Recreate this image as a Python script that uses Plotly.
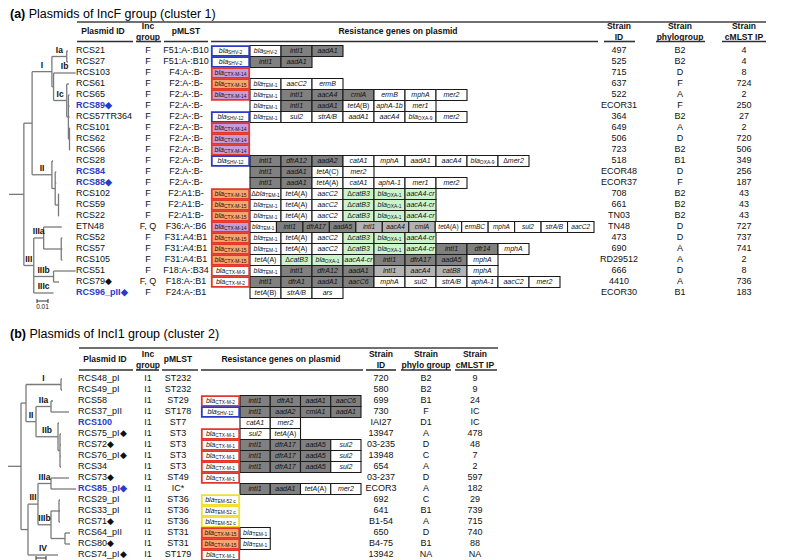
import plotly.graph_objects as go

# ======================= DATA : panel (a) IncF =======================
A_IDS = ["RCS21", "RCS27", "RCS103", "RCS61", "RCS65", "RCS89◆", "RCS57TR364", "RCS101",
         "RCS62", "RCS66", "RCS28", "RCS84", "RCS88◆", "RCS102", "RCS59", "RCS22", "ETN48",
         "RCS52", "RCS57", "RCS105", "RCS51", "RCS79◆", "RCS96_pII◆"]
A_REFSTRAIN = ["RCS89◆", "RCS84", "RCS88◆", "RCS96_pII◆"]
A_INC = ["F", "F", "F", "F", "F", "F", "F", "F", "F", "F", "F", "F", "F", "F", "F", "F",
         "F, Q", "F", "F", "F", "F", "F, Q", "F"]
A_PMLST = ["F51:A-:B10", "F51:A-:B10", "F4:A-:B-", "F2:A-:B-", "F2:A-:B-", "F2:A-:B-",
           "F2:A-:B-", "F2:A-:B-", "F2:A-:B-", "F2:A-:B-", "F2:A-:B-", "F2:A-:B-", "F2:A-:B-",
           "F2:A1:B-", "F2:A1:B-", "F2:A1:B-", "F36:A-:B6", "F31:A4:B1", "F31:A4:B1",
           "F31:A4:B1", "F18:A-:B34", "F18:A-:B1", "F24:A-:B1"]
# first entry = ESBL slot ("" = none); "In:" class-1 integron cassette, "In2:" second
# integron, "OX:" blaOXA-1 module
A_GENES = [
    ["blaSHV-2", "blaSHV-2", "In:intI1", "In:aadA1"],
    ["blaSHV-2", "In:intI1", "In:aadA1"],
    ["blaCTX-M-14"],
    ["blaCTX-M-15", "blaTEM-1", "aacC2", "ermB"],
    ["blaCTX-M-14", "blaTEM-1", "In:intI1", "In:aacA4", "In:cmlA", "ermB", "mphA", "mer2"],
    ["", "blaTEM-1", "In:intI1", "In:aadA1", "tetA(B)", "aphA-1b", "mer1"],
    ["blaSHV-12", "blaTEM-1", "sul2", "strA/B", "aadA1", "aacA4", "blaOXA-9", "mer2"],
    ["blaCTX-M-14"],
    ["blaCTX-M-14"],
    ["blaCTX-M-14"],
    ["blaSHV-12", "In:intI1", "In:dfrA12", "In:aadA2", "catA1", "mphA", "aadA1", "aacA4",
     "blaOXA-9", "Δmer2"],
    ["", "In:intI1", "In:aadA1", "tetA(C)", "mer2"],
    ["", "In:intI1", "In:aadA1", "tetA(A)", "catA1", "aphA-1", "mer1", "mer2"],
    ["blaCTX-M-15", "ΔblaTEM-1", "tetA(A)", "aacC2", "OX:ΔcatB3", "OX:blaOXA-1", "OX:aacA4-cr"],
    ["blaCTX-M-15", "blaTEM-1", "tetA(A)", "aacC2", "OX:ΔcatB3", "OX:blaOXA-1", "OX:aacA4-cr"],
    ["blaCTX-M-15", "blaTEM-1", "tetA(A)", "aacC2", "OX:ΔcatB3", "OX:blaOXA-1", "OX:aacA4-cr"],
    ["blaCTX-M-14", "blaTEM-1", "In:intI1", "In:dfrA17", "In:aadA5", "In2:intI1", "In2:aacA4",
     "In2:cmlA", "tetA(A)", "ermBC", "mphA", "sul2", "strA/B", "aacC2"],
    ["blaCTX-M-15", "blaTEM-1", "tetA(A)", "aacC2", "OX:ΔcatB3", "OX:blaOXA-1", "OX:aacA4-cr"],
    ["blaCTX-M-15", "blaTEM-1", "tetA(A)", "aacC2", "OX:ΔcatB3", "OX:blaOXA-1", "OX:aacA4-cr",
     "In:intI1", "In:dfr14", "mphA"],
    ["blaCTX-M-15", "tetA(A)", "OX:ΔcatB3", "OX:blaOXA-1", "OX:aacA4-cr", "In:intI1",
     "In:dfrA17", "In:aadA5", "mphA"],
    ["blaCTX-M-9", "blaTEM-1", "In:intI1", "In:dfrA12", "In:aadA1", "In2:intI1", "In2:aacA4",
     "In2:catB8", "mphA"],
    ["blaCTX-M-2", "In:intI1", "In:dfrA1", "In:aadA1", "In:aacC6", "mphA", "sul2", "strA/B",
     "aphA-1", "aacC2", "mer2"],
    ["", "tetA(B)", "strA/B", "ars"],
]
A_STRAIN = ["497", "525", "715", "637", "522", "ECOR31", "364", "649", "506", "723", "518",
            "ECOR48", "ECOR37", "708", "661", "TN03", "TN48", "473", "690", "RD29512", "666",
            "4410", "ECOR30"]
A_PHYLO = ["B2", "B2", "D", "F", "A", "F", "B2", "A", "D", "B2", "B1", "D", "F", "B2", "B2",
           "B2", "D", "D", "A", "A", "D", "A", "B1"]
A_CMLST = ["4", "4", "8", "724", "2", "250", "27", "2", "720", "506", "349", "256", "187",
           "43", "43", "43", "727", "737", "741", "2", "8", "736", "183"]
# tree: (clade label, branch length, children | leaf name)
A_TREE = ("", 0.0135, [
    ("", 0.0075, [
        ("I", 0.018, [
            ("Ia", 0.0135, [("", 0.001, "RCS21"), ("", 0.001, "RCS27")]),
            ("", 0.0015, [
                ("Ib", 0.020, "RCS103"),
                ("Ic", 0.012, [
                    ("", 0.002, "RCS61"),
                    ("", 0.0015, [
                        ("", 0.001, "RCS65"), ("", 0.001, "RCS89"), ("", 0.001, "RCS57TR364"),
                        ("", 0.001, [("", 0.0005, "RCS101"), ("", 0.0005, "RCS62"),
                                     ("", 0.0005, "RCS66")])])])])]),
        ("II", 0.018, [
            ("", 0.001, "RCS28"),
            ("", 0.003, [
                ("", 0.001, "RCS84"), ("", 0.001, "RCS88"),
                ("", 0.003, [("", 0.0005, "RCS102"), ("", 0.0005, "RCS59"),
                             ("", 0.0005, "RCS22")])])])]),
    ("III", 0.009, [
        ("IIIa", 0.009, [
            ("", 0.0165, "ETN48"),
            ("", 0.016, [("", 0.001, "RCS52"), ("", 0.001, "RCS57"), ("", 0.001, "RCS105")])]),
        ("IIIb", 0.018, [("", 0.02, "RCS51"), ("", 0.005, "RCS79")]),
        ("IIIc", 0.018, "RCS96_pII")])])
A_SCALE = 0.01

# ======================= DATA : panel (b) IncI1 =======================
B_IDS = ["RCS48_pI", "RCS49_pI", "RCS58", "RCS37_pII", "RCS100", "RCS75_pI◆", "RCS72◆",
         "RCS76_pI◆", "RCS34", "RCS73◆", "RCS85_pI◆", "RCS29_pI", "RCS33_pI", "RCS71◆",
         "RCS64_pII", "RCS80◆", "RCS74_pI◆"]
B_REFSTRAIN = ["RCS100", "RCS85_pI◆"]
B_INC = ["I1"] * 17
B_PMLST = ["ST232", "ST232", "ST29", "ST178", "ST7", "ST3", "ST3", "ST3", "ST3", "ST49", "IC*",
           "ST36", "ST36", "ST36", "ST31", "ST31", "ST179"]
B_GENES = [
    [],
    [],
    ["blaCTX-M-2", "In:intI1", "In:dfrA1", "In:aadA1", "In:aacC6"],
    ["blaSHV-12", "In:intI1", "In:aadA2", "In:cmlA1", "In:aadA1"],
    ["", "catA1", "mer2"],
    ["blaCTX-M-1", "sul2", "tetA(A)"],
    ["blaCTX-M-1", "In:intI1", "In:dfrA17", "In:aadA5", "sul2"],
    ["blaCTX-M-1", "In:intI1", "In:dfrA17", "In:aadA5", "sul2"],
    ["blaCTX-M-1", "In:intI1", "In:dfrA17", "In:aadA5", "sul2"],
    ["blaCTX-M-1"],
    ["", "In:intI1", "In:aadA1", "tetA(A)", "mer2"],
    ["blaTEM-52 c"],
    ["blaTEM-52 c"],
    ["blaTEM-52 c"],
    ["blaCTX-M-15", "blaTEM-1"],
    ["blaCTX-M-15", "blaTEM-1"],
    ["blaCTX-M-1"],
]
B_STRAIN = ["720", "580", "699", "730", "IAI27", "13947", "03-235", "13948", "654", "03-237",
            "ECOR3", "692", "641", "B1-54", "650", "B4-75", "13942"]
B_PHYLO = ["B2", "B2", "B1", "F", "D1", "A", "D", "C", "A", "D", "A", "C", "B1", "A", "D",
           "B1", "NA"]
B_CMLST = ["9", "9", "24", "IC", "IC", "478", "48", "7", "2", "597", "182", "29", "739",
           "715", "740", "88", "NA"]
B_TREE = ("", 0.0065, [
    ("", 0.0025, [
        ("I", 0.0175, [("", 0.0005, "RCS48_pI"), ("", 0.0005, "RCS49_pI")]),
        ("II", 0.005, [
            ("IIa", 0.0075, [("", 0.001, "RCS58"), ("", 0.009, "RCS37_pII")]),
            ("IIb", 0.011, [
                ("", 0.0005, "RCS100"),
                ("", 0.001, [("", 0.0005, "RCS75_pI"), ("", 0.0005, "RCS72"),
                             ("", 0.0005, "RCS76_pI"), ("", 0.0005, "RCS34")])])])]),
    ("", 0.0035, [
        ("III", 0.005, [
            ("IIIa", 0.0065, [("", 0.009, "RCS73"), ("", 0.0125, "RCS85_pI")]),
            ("IIIb", 0.0065, [
                ("", 0.004, [("", 0.0005, "RCS29_pI"), ("", 0.0005, "RCS33_pI"),
                             ("", 0.0005, "RCS71")]),
                ("", 0.007, [("", 0.0025, "RCS64_pII"), ("", 0.0025, "RCS80")])])]),
        ("IV", 0.015, "RCS74_pI")])])
B_SCALE = 0.005

# ======================= STYLE / LAYOUT =======================
FONT = "Liberation Sans, Arial, Helvetica, sans-serif"
W, H = 787, 560
BLUE = "#2b39c6"
RED = "#e4372c"
MOD_FILL = {"": "#ffffff", "In": "#808080", "In2": "#b3b3b3", "OX": "#cdf3cd"}

PA = dict(title="<b>(a)</b> Plasmids of IncF group (cluster 1)", y_title=7, y_top=14,
          y_head=24, y_ul=33.5, y0=43, dy=11, x_id=68, x_inc=140, x_pm=178,
          x_g0=203, we=39, wc=31, xg_end=586, x_sid=611, x_phy=672, x_cml=736,
          x_line=(69, 758), x_res=390, tree_x0=1, tree_px=1100,
          ul=[(69, 125), (128, 153), (156, 200), (203, 590), (596, 627), (648, 697), (714, 758)],
          heads=["Plasmid ID", "Inc<br>group", "pMLST", "Resistance genes on plasmid",
                 "Strain<br>ID", "Strain<br>phylogroup", "Strain<br>cMLST IP"],
          scale_xy=(29, 293))
PB = dict(title="<b>(b)</b> Plasmids of IncI1 group (cluster 2)", y_title=327, y_top=340,
          y_head=352, y_ul=362, y0=371, dy=11, x_id=70, x_inc=140, x_pm=170,
          x_g0=193, we=39, wc=30.25, xg_end=360, x_sid=373, x_phy=418, x_cml=467,
          x_line=(71, 490), x_res=273, tree_x0=0, tree_px=2000,
          ul=[(71, 125), (128, 151), (154, 190), (193, 355), (358, 388), (393, 443), (447, 489)],
          heads=["Plasmid ID", "Inc<br>group", "pMLST", "Resistance genes on plasmid",
                 "Strain<br>ID", "Strain<br>phylo group", "Strain<br>cMLST IP"],
          scale_xy=(28, 550))

fig = go.Figure()
shapes_cells, shapes_esbl, shapes_lines = [], [], []
texts = {}
tree_x, tree_y = [], []


def add_text(x, y, s, size=9, color="#111111", pos="middle center"):
    d = texts.setdefault((size, color, pos), ([], [], []))
    d[0].append(x)
    d[1].append(y)
    d[2].append(s)


def line(x0, x1, y0, y1, color="#333333", w=1.5):
    shapes_lines.append(dict(type="line", xref="x", yref="y", x0=x0, x1=x1, y0=y0, y1=y1,
                             line=dict(color=color, width=w)))


def fmt_gene(g):
    if g.startswith("Δbla"):
        return "Δ<i>bla</i><sub>" + g[4:] + "</sub>"
    if g.startswith("bla"):
        return "<i>bla</i><sub>" + g[3:] + "</sub>"
    if "(" in g:
        i = g.index("(")
        return "<i>" + g[:i] + "</i>" + g[i:]
    if g.startswith("Δ"):
        return "Δ<i>" + g[1:] + "</i>"
    return "<i>" + g + "</i>"


def esbl_style(g):
    if "CTX-M-14" in g:
        return "#c99bd8", RED
    if "CTX-M-15" in g:
        return "#f6a66c", RED
    if "CTX-M" in g:
        return "#ffffff", RED
    if "SHV" in g:
        return "#ffffff", BLUE
    if "TEM-52" in g:
        return "#ffffff", "#f0df30"
    return "#ffffff", "#222222"


def split_mod(g):
    if ":" in g:
        m, n = g.split(":", 1)
        if m in MOD_FILL:
            return m, n
    return "", g


def layout_tree(node, xp, px, rowy, labels):
    lab, bl, kids = node
    x = xp + bl * px
    if isinstance(kids, str):
        y = rowy[kids]
    else:
        ys = [layout_tree(k, x, px, rowy, labels) for k in kids]
        y = (min(ys) + max(ys)) / 2
        tree_x.extend([x, x, None])
        tree_y.extend([min(ys), max(ys), None])
    tree_x.extend([xp, x, None])
    tree_y.extend([y, y, None])
    if lab:
        labels.append(((xp + x) / 2, y - 6, lab))
    return y


def draw_panel(P, ids, ref, inc, pmlst, genes, strain, phylo, cmlst, tree, scale):
    add_text(2, P["y_title"], P["title"], 12.5, "#000000", "middle right")
    line(P["x_line"][0], P["x_line"][1], P["y_top"], P["y_top"], "#404040", 1.6)
    hx = [(P["x_id"] + 27), P["x_inc"], P["x_pm"], P["x_res"], P["x_sid"], P["x_phy"], P["x_cml"]]
    for x, h in zip(hx, P["heads"]):
        add_text(x, P["y_head"], "<b>" + h + "</b>", 8.5, "#111111")
    for a, b in P["ul"]:
        line(a, b, P["y_ul"], P["y_ul"], "#303030", 1.6)
    rowy = {}
    for i, pid in enumerate(ids):
        y = P["y0"] + i * P["dy"]
        rowy[pid.replace("◆", "")] = y
        if pid in ref:
            add_text(P["x_id"], y, "<b>" + pid + "</b>", 9, BLUE, "middle right")
        else:
            add_text(P["x_id"], y, pid, 9, "#111111", "middle right")
        add_text(P["x_inc"], y, inc[i], 9)
        add_text(P["x_pm"], y, pmlst[i], 9)
        add_text(P["x_sid"], y, strain[i], 9)
        add_text(P["x_phy"], y, phylo[i], 9)
        add_text(P["x_cml"], y, cmlst[i], 9)
        g = genes[i]
        y0, y1 = y - P["dy"] / 2, y + P["dy"] / 2
        x = P["x_g0"]
        if g and g[0]:
            fill, border = esbl_style(g[0])
            shapes_esbl.append(dict(type="rect", xref="x", yref="y", x0=x + 0.8, x1=x + P["we"] - 0.8,
                                    y0=y0 + 0.6, y1=y1 - 0.6, fillcolor=fill,
                                    line=dict(color=border, width=1.8), layer="below"))
            add_text(x + P["we"] / 2, y, fmt_gene(g[0]), 7)
        x += P["we"]
        rest = g[1:]
        if rest:
            w = min(P["wc"], (P["xg_end"] - x) / len(rest))
            fs = 7 if w >= 29 else 6.5
            for gg in rest:
                mod, name = split_mod(gg)
                shapes_cells.append(dict(type="rect", xref="x", yref="y", x0=x, x1=x + w,
                                         y0=y0, y1=y1, fillcolor=MOD_FILL[mod],
                                         line=dict(color="#1a1a1a", width=1.1), layer="below"))
                add_text(x + w / 2, y, fmt_gene(name), fs)
                x += w
    labels = []
    layout_tree(tree, P["tree_x0"], P["tree_px"], rowy, labels)
    for lx, ly, lab in labels:
        add_text(lx, ly, "<b>" + lab + "</b>", 8.5, "#111111")
    sx, sy = P["scale_xy"]
    L = scale * P["tree_px"]
    line(sx, sx + L, sy, sy, "#333333", 1)
    line(sx, sx, sy - 2, sy + 2, "#333333", 1)
    line(sx + L, sx + L, sy - 2, sy + 2, "#333333", 1)
    add_text(sx + L / 2, sy + 6, str(scale), 6.5)


draw_panel(PA, A_IDS, A_REFSTRAIN, A_INC, A_PMLST, A_GENES, A_STRAIN, A_PHYLO, A_CMLST,
           A_TREE, A_SCALE)
draw_panel(PB, B_IDS, B_REFSTRAIN, B_INC, B_PMLST, B_GENES, B_STRAIN, B_PHYLO, B_CMLST,
           B_TREE, B_SCALE)

fig.add_trace(go.Scatter(x=tree_x, y=tree_y, mode="lines", line=dict(color="#7a7a7a", width=1.3),
                         hoverinfo="skip", showlegend=False))
for (size, color, pos), (xs, ys, ss) in texts.items():
    fig.add_trace(go.Scatter(x=xs, y=ys, text=ss, mode="text", textposition=pos,
                             textfont=dict(family=FONT, size=size, color=color),
                             hoverinfo="skip", showlegend=False, cliponaxis=False))

fig.update_layout(
    width=W, height=H, margin=dict(l=0, r=0, t=0, b=0),
    paper_bgcolor="white", plot_bgcolor="white",
    xaxis=dict(range=[0, W], visible=False, fixedrange=True),
    yaxis=dict(range=[H, 0], visible=False, fixedrange=True),
    shapes=shapes_cells + shapes_esbl + shapes_lines,
    showlegend=False,
)
fig.write_html("out.html", config={"displayModeBar": False})
